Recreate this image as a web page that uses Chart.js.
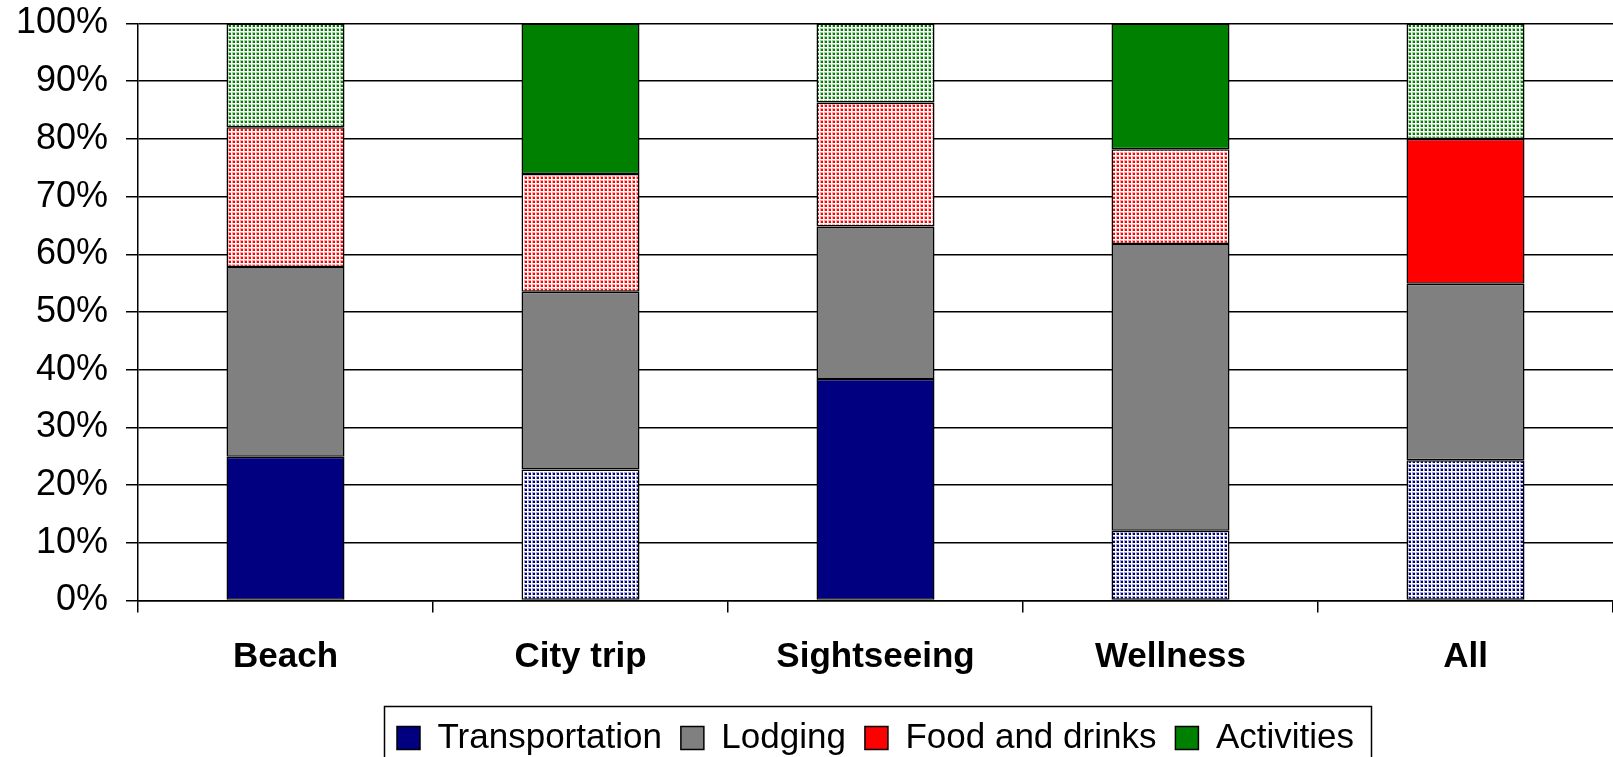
<!DOCTYPE html>
<html>
<head>
<meta charset="utf-8">
<script src="https://cdn.jsdelivr.net/npm/chart.js@4/dist/chart.umd.min.js"></script>
<style>
  html, body { margin: 0; padding: 0; background: #fff; }
  #wrap { width: 1613px; height: 757px; }
</style>
</head>
<body>
<div id="wrap"><canvas id="chart"></canvas></div>
<script>
// Data (percent of trip spend)
const categories = ["Beach", "City trip", "Sightseeing", "Wellness", "All"];
const transportation = [24.9, 22.7, 38.4, 12.1, 24.3];
const lodging = [32.9, 30.8, 26.4, 49.7, 30.6];
const foodAndDrinks = [24.2, 20.4, 21.5, 16.4, 25.1];
const activities = [18.0, 26.1, 13.7, 21.8, 20.0];
const yTicks = [0, 10, 20, 30, 40, 50, 60, 70, 80, 90, 100];

// Which segments are drawn dotted instead of solid
const dottedTransportation = [false, true, false, true, true];
const dottedLodging = [false, false, false, false, false];
const dottedFood = [true, true, true, true, false];
const dottedActivities = [true, false, true, false, true];

const FONT = "'Liberation Sans', Arial, sans-serif";

// dotted fill like the old excel 25% pattern (scaled up, so dots are a bit soft)
function dotPattern(color) {
  const c = document.createElement("canvas");
  c.width = 4;
  c.height = 4;
  const g = c.getContext("2d");
  g.fillStyle = "#fff";
  g.fillRect(0, 0, 4, 4);
  g.globalAlpha = 0.35;
  g.fillStyle = color;
  g.fillRect(0, 0, 3, 3);
  g.globalAlpha = 1;
  g.fillRect(1, 1, 2, 2);
  return g.createPattern(c, "repeat");
}

function fills(color, dotted) {
  const pat = dotPattern(color);
  return dotted.map((d) => (d ? pat : color));
}

const series = [
  { label: "Transportation", data: transportation, color: "#000080", dotted: dottedTransportation },
  { label: "Lodging", data: lodging, color: "#808080", dotted: dottedLodging },
  { label: "Food and drinks", data: foodAndDrinks, color: "#ff0000", dotted: dottedFood },
  { label: "Activities", data: activities, color: "#008000", dotted: dottedActivities },
];

// box around the legend, like the original
const legendBorder = {
  id: "legendBorder",
  afterDraw(chart) {
    const lg = chart.legend;
    const hb = lg.legendHitBoxes;
    if (!hb || !hb.length) return;
    const last = hb[hb.length - 1];
    const left = Math.round(hb[0].left - 13);
    const right = Math.round(last.left + last.width + 17);
    const top = Math.round(lg.top + 4.5);
    const ctx = chart.ctx;
    ctx.save();
    ctx.strokeStyle = "#000";
    ctx.lineWidth = 1.5;
    ctx.strokeRect(left + 0.5, top + 0.5, right - left, 100);
    ctx.restore();
  },
};

new Chart(document.getElementById("chart"), {
  type: "bar",
  data: {
    labels: categories,
    datasets: series.map((s) => ({
      label: s.label,
      data: s.data,
      backgroundColor: fills(s.color, s.dotted),
      legendColor: s.color,
      borderColor: "#000",
      borderWidth: 1.5,
      borderSkipped: false,
      barPercentage: 0.4,
      categoryPercentage: 1.0,
    })),
  },
  options: {
    responsive: true,
    maintainAspectRatio: false,
    animation: false,
    layout: { padding: { top: 23.5, right: 0, bottom: -8.5, left: 0 } },
    plugins: {
      tooltip: { enabled: false },
      legend: {
        position: "bottom",
        fullSize: false,
        labels: {
          color: "#000",
          font: { family: FONT, size: 35 },
          boxWidth: 23,
          boxHeight: 23,
          padding: 19,
          generateLabels(chart) {
            return chart.data.datasets.map((ds, i) => ({
              text: ds.label,
              fillStyle: ds.legendColor,
              strokeStyle: "#000",
              lineWidth: 1.5,
              hidden: false,
              datasetIndex: i,
            }));
          },
        },
      },
    },
    scales: {
      x: {
        stacked: true,
        afterFit(scale) {
          scale.height = 101;
          scale.paddingLeft = 0;
          scale.paddingRight = 0;
        },
        grid: {
          offset: true,
          drawOnChartArea: false,
          drawTicks: true,
          tickLength: 12,
          lineWidth: 1.5,
          color: "#000",
        },
        border: { display: true, color: "#000", width: 1.5 },
        ticks: {
          color: "#000",
          padding: 24,
          font: { family: FONT, size: 35, weight: "bold" },
        },
      },
      y: {
        stacked: true,
        min: 0,
        max: 100,
        afterFit(scale) {
          scale.width = 138;
          scale.paddingTop = 0;
          scale.paddingBottom = 0;
        },
        afterBuildTicks(scale) { scale.ticks = yTicks.map((v) => ({ value: v })); },
        grid: {
          color: "#000",
          lineWidth: 1.5,
          drawTicks: true,
          tickLength: 12,
          tickColor: "#000",
        },
        border: { display: true, color: "#000", width: 1.5 },
        ticks: {
          color: "#000",
          padding: 18,
          font: { family: FONT, size: 36 },
          callback: (v) => v + "%",
        },
      },
    },
  },
  plugins: [legendBorder],
});
</script>
</body>
</html>
